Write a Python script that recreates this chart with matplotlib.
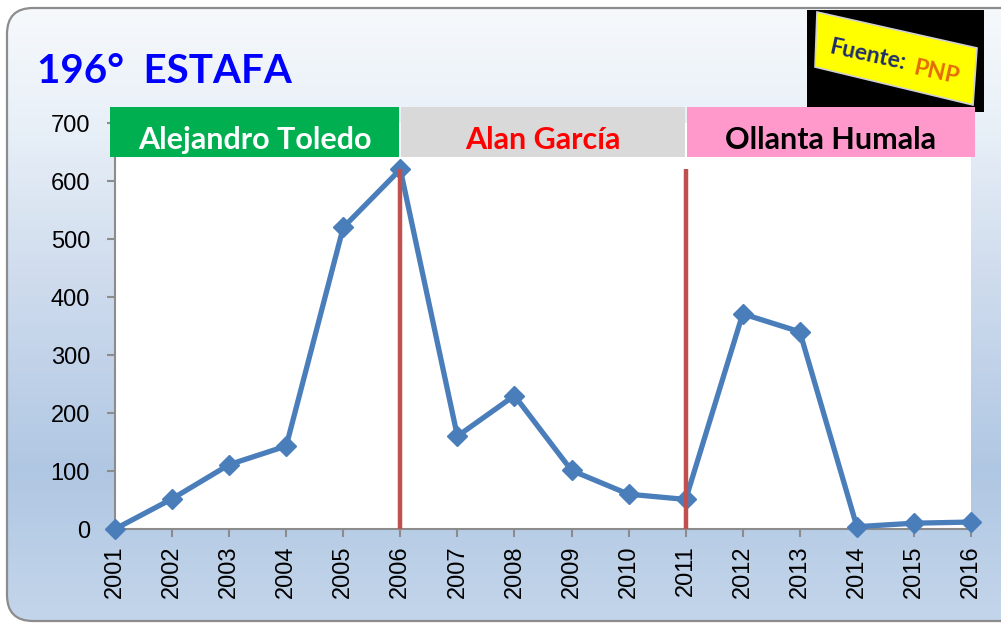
import numpy as np
import matplotlib
matplotlib.use('Agg')
import matplotlib.pyplot as plt
from matplotlib.patches import FancyBboxPatch, Rectangle, Polygon

years = list(range(2001, 2017))
cases = [0, 52, 111, 143, 520, 620, 160, 230, 101, 60, 51, 371, 340, 4, 10, 12]

presidents = ['Alejandro Toledo', 'Alan García', 'Ollanta Humala']
terms = [(2001, 2006), (2006, 2011), (2011, 2016)]
band_colors = ['#00b050', '#d9d9d9', '#ff99cc']
band_text_colors = ['white', '#ff0000', 'black']
changes = [2006, 2011]

W, H = 1001, 628
fig = plt.figure(figsize=(W / 100, H / 100), dpi=100)
fig.patch.set_facecolor('white')

# background panel (pixel coordinates)
bg = fig.add_axes([0, 0, 1, 1], zorder=-2)
bg.set_xlim(0, W)
bg.set_ylim(H, 0)
bg.axis('off')
panel = FancyBboxPatch((7, 8), 1030, 613, boxstyle='round,pad=0,rounding_size=26',
                       fc='none', ec='#8c8c8c', lw=1.6, zorder=3)
bg.add_patch(panel)
grad = np.array([[0.97, 0.98, 0.99], [0.91, 0.94, 0.97], [0.81, 0.86, 0.93],
                 [0.69, 0.78, 0.89], [0.77, 0.84, 0.92]])
ys = np.linspace(0, 1, H)
img = np.stack([np.interp(ys, [0, 0.2, 0.45, 0.75, 1.0], grad[:, c]) for c in range(3)], axis=-1)
img = np.repeat(img[:, None, :], 10, axis=1)
im = bg.imshow(img, extent=[0, W + 40, H, 0], aspect='auto', zorder=1)
im.set_clip_path(panel)

bg.text(37, 83, '196°  ESTAFA', color='#0000ff', fontsize=29, fontweight='bold',
        family='Lato', va='baseline', ha='left')

# source label
bg.add_patch(Rectangle((807, 10), 177, 102, fc='black', ec='none', zorder=4))
bg.add_patch(Polygon([(817, 12), (977, 48), (973, 105), (815, 67)], closed=True,
                     fc='#ffff00', ec='#d0d0d0', lw=1.2, zorder=5))
ang = -12.5
bg.text(867, 55, 'Fuente:', color='#1f2d6b', fontsize=16.5, fontweight='bold',
        family='Lato', rotation=ang, ha='center', va='center', zorder=6,
        rotation_mode='anchor')
bg.text(936, 73, 'PNP', color='#e46c0a', fontsize=16.5, fontweight='bold',
        family='Lato', rotation=ang, ha='center', va='center', zorder=6,
        rotation_mode='anchor')

# main chart
ax = fig.add_axes([115 / W, 1 - 529 / H, 856 / W, 406 / H])
ax.set_facecolor('white')
ax.plot(years, cases, color='#4a7ebb', lw=3.8, marker='D', ms=10, zorder=3, clip_on=False)
ax.vlines(changes, 0, max(cases), color='#c0504d', lw=3.2, zorder=4)

ax.set_xlim(2001, 2016)
ax.set_ylim(0, 700)
ax.set_xticks(years)
ax.set_xticklabels([str(y) for y in years], rotation=90)
ax.set_yticks(range(0, 701, 100))
for s in ['top', 'right']:
    ax.spines[s].set_visible(False)
for s in ['left', 'bottom']:
    ax.spines[s].set_color('#8c8c8c')
    ax.spines[s].set_linewidth(1.5)
ax.tick_params(axis='both', colors='#8c8c8c', width=1.5, length=6, labelcolor='black',
               labelsize=17)
ax.tick_params(axis='y', pad=12)
ax.tick_params(axis='x', pad=6)
for lab in ax.get_xticklabels() + ax.get_yticklabels():
    lab.set_family('Liberation Sans')

# president bands
for name, (a, b), fc, tc in zip(presidents, terms, band_colors, band_text_colors):
    x0 = a - 0.09 if a == terms[0][0] else a + 0.02
    x1 = b - 0.02 if b != terms[-1][1] else b + 0.07
    ax.add_patch(Rectangle((x0, 641), x1 - x0, 87, fc=fc, ec='none', zorder=5, clip_on=False))
    ax.text((x0 + x1) / 2, 655, name, color=tc, fontsize=22, fontweight='bold',
            family='Lato', ha='center', va='baseline', zorder=6)

fig.savefig('out.png', dpi=100)
